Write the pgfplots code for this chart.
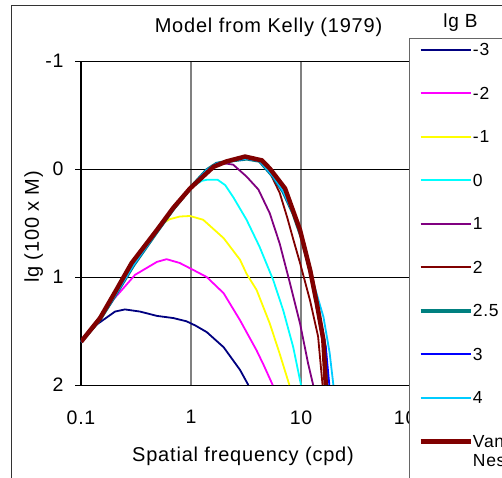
\documentclass[border=0pt]{standalone}
\usepackage{fontspec}
\setmainfont{Liberation Sans}[LetterSpace=4]
\usepackage{pgfplots}
\pgfplotsset{compat=1.18}
\definecolor{cNavy}{RGB}{0,0,128}
\definecolor{cMag}{RGB}{255,0,255}
\definecolor{cYel}{RGB}{255,255,0}
\definecolor{cCyan}{RGB}{0,255,255}
\definecolor{cPurp}{RGB}{128,0,128}
\definecolor{cMaroon}{RGB}{128,0,0}
\definecolor{cTeal}{RGB}{0,128,128}
\definecolor{cBlue}{RGB}{0,0,255}
\definecolor{cSky}{RGB}{0,204,255}
\begin{document}
\begin{tikzpicture}
\useasboundingbox (0,0) rectangle (502pt,-477pt);
\clip (0,0) rectangle (502pt,-477pt);
\fill[white] (0,0) rectangle (502pt,-477pt);
\draw[line width=1pt, black!80] (11pt,-5.5pt) rectangle (560pt,-560pt);
\node[anchor=base, font=\fontsize{20}{20}\selectfont] at (268.5pt,-32.3pt) {Model from Kelly (1979)};
\begin{axis}[
  scale only axis, width=330pt, height=324pt,
  anchor=north west, at={(81pt,-61pt)},
  xmode=log, xmin=0.1, xmax=100, ymin=-1, ymax=2, y dir=reverse,
  xtick={0.1,1,10,100}, xticklabels={0.1,1,10,100}, xminorticks=false,
  ytick={-1,0,1,2}, yticklabels={-1,0,1,2},
  tick align=outside, major tick length=6pt, ytick pos=left,
  xtick style={draw=none}, ytick style={black, line width=1pt},
  xmajorgrids, ymajorgrids,
  major x grid style={color=black!50, line width=1.2pt},
  major y grid style={color=black, line width=1pt},
  separate axis lines,
  axis line style={line width=1pt},
  every outer y axis line/.append style={line width=2pt},
  tick label style={font=\fontsize{19.5}{20}\selectfont},
  yticklabel style={xshift=-8pt},
  xticklabel style={yshift=-16pt},
  xlabel={Spatial frequency (cpd)},
  ylabel={lg (100 x M)},
  label style={font=\fontsize{20}{20}\selectfont},
  xlabel style={at={(axis description cs:0.491,-0.2346)}, anchor=base},
  ylabel style={at={(axis description cs:-0.1273,0.488)}, anchor=base},
  legend style={at={(axis description cs:0.9939,1.0725)}, anchor=north west,
    draw=black!60, line width=1pt, fill=white,
    font=\fontsize{17.5}{17.5}\selectfont,
    inner xsep=9pt, inner ysep=5.8pt, row sep=31.5pt, column sep=0pt,
    nodes={inner sep=0pt, text height=12pt, text depth=0pt},
    cells={anchor=west}},
  legend image code/.code={\draw[#1] (0pt,0pt) -- (50pt,0pt);},
]
\addplot[cNavy, line width=1.8pt] coordinates {(0.1,1.60) (0.139,1.44) (0.204,1.32) (0.251,1.30) (0.344,1.32) (0.49,1.36) (0.69,1.38) (0.91,1.41) (1.1,1.45) (1.39,1.51) (1.98,1.65) (2.79,1.86) (3.32,2.0)};
\addlegendentry{-3}
\addplot[cMag, line width=1.8pt] coordinates {(0.1,1.60) (0.149,1.39) (0.2,1.2) (0.226,1.14) (0.31,0.98) (0.49,0.86) (0.6,0.835) (0.79,0.87) (1.05,0.935) (1.39,1.0) (1.98,1.15) (2.79,1.40) (3.95,1.68) (4.6,1.82) (5.53,2.0)};
\addlegendentry{-2}
\addplot[cYel, line width=1.8pt] coordinates {(0.1,1.60) (0.149,1.39) (0.204,1.17) (0.30,0.89) (0.49,0.58) (0.56,0.50) (0.64,0.465) (0.79,0.44) (0.98,0.435) (1.29,0.47) (1.98,0.64) (2.79,0.84) (3.2,0.97) (3.95,1.12) (5.2,1.43) (6.4,1.71) (7.84,2.0)};
\addlegendentry{-1}
\addplot[cCyan, line width=1.8pt] coordinates {(0.1,1.60) (0.149,1.39) (0.204,1.17) (0.30,0.89) (0.49,0.58) (0.69,0.37) (0.98,0.18) (1.25,0.11) (1.39,0.10) (1.75,0.10) (2.05,0.15) (2.42,0.26) (3.2,0.47) (4.2,0.72) (5.6,1.03) (6.9,1.31) (8.5,1.65) (10.0,2.0)};
\addlegendentry{0}
\addplot[cPurp, line width=1.8pt] coordinates {(0.1,1.60) (0.149,1.39) (0.204,1.17) (0.30,0.89) (0.49,0.58) (0.69,0.37) (0.98,0.18) (1.39,0.01) (1.71,-0.05) (2.1,-0.05) (2.42,-0.04) (3.2,0.07) (4.1,0.19) (5.2,0.41) (6.4,0.69) (7.95,1.06) (9.8,1.43) (11.6,1.80) (12.9,2.0)};
\addlegendentry{1}
\addplot[cMaroon, line width=1.8pt] coordinates {(0.1,1.60) (0.149,1.39) (0.204,1.17) (0.30,0.89) (0.49,0.58) (0.69,0.37) (0.98,0.18) (1.39,0.01) (1.71,-0.05) (2.42,-0.08) (3.21,-0.095) (4.2,-0.075) (5.2,0.03) (6.4,0.22) (7.5,0.45) (8.5,0.65) (9.8,0.87) (12.1,1.22) (14.3,1.55) (15.7,2.0)};
\addlegendentry{2}
\addplot[cTeal, line width=3.6pt] coordinates {(0.1,1.60) (0.149,1.39) (0.204,1.17) (0.30,0.89) (0.49,0.58) (0.69,0.37) (0.98,0.18) (1.39,0.01) (1.71,-0.05) (2.42,-0.08) (3.21,-0.095) (4.2,-0.075) (5.6,0.07) (6.9,0.21) (8.5,0.41) (10.1,0.63) (12.1,0.935) (14.3,1.31) (16.5,1.65) (17.1,2.0)};
\addlegendentry{2.5}
\addplot[cBlue, line width=1.8pt] coordinates {(0.1,1.60) (0.149,1.39) (0.204,1.17) (0.30,0.89) (0.49,0.58) (0.69,0.37) (0.98,0.18) (1.39,0.01) (1.71,-0.05) (2.42,-0.08) (3.21,-0.095) (4.2,-0.075) (5.6,0.07) (6.9,0.21) (8.5,0.41) (10.1,0.63) (12.1,0.935) (14.3,1.31) (16.8,1.65) (18.1,2.0)};
\addlegendentry{3}
\addplot[cSky, line width=1.8pt] coordinates {(0.1,1.60) (0.149,1.39) (0.204,1.17) (0.30,0.89) (0.49,0.58) (0.69,0.37) (0.98,0.18) (1.39,0.01) (1.71,-0.05) (2.42,-0.08) (3.21,-0.095) (4.2,-0.075) (5.6,0.07) (6.9,0.21) (8.5,0.41) (10.1,0.63) (12.1,0.93) (13.2,1.08) (16.0,1.37) (18.2,1.70) (19.7,2.0)};
\addlegendentry{4}
\addplot[cMaroon, line width=4.5pt] coordinates {(0.1,1.6) (0.149,1.38) (0.204,1.14) (0.289,0.87) (0.49,0.565) (0.69,0.36) (0.98,0.18) (1.6,-0.02) (2.1,-0.07) (3.1,-0.115) (4.4,-0.08) (5.2,-0.005) (7.16,0.18) (9.8,0.565) (12.1,0.935) (13.9,1.24) (15.96,1.58) (16.8,2.0)};
\addlegendentry{\rlap{\smash{\raisebox{-19pt}{Nes}}}Van}
\addlegendimage{empty legend}
\addlegendentry{}
\end{axis}
\node[anchor=base, font=\fontsize{19}{19}\selectfont] at (460.5pt,-27.3pt) {lg B};
\end{tikzpicture}
\end{document}
